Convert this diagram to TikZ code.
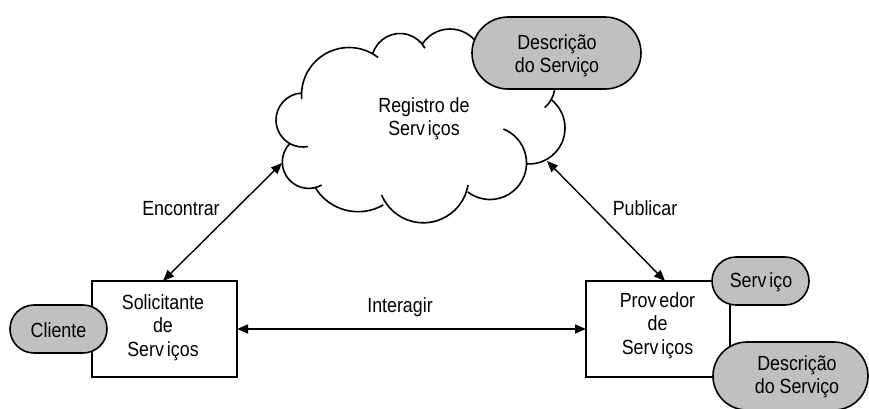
\documentclass[tikz,border=0pt]{standalone}
\usepackage{fontspec}
\setmainfont[FakeStretch=0.87]{Liberation Sans}
\usetikzlibrary{arrows.meta,calc}
\definecolor{pillgray}{RGB}{192,192,192}
\newcommand\lblfont{\fontsize{20.5}{23.5}\selectfont}
\newcommand\twolines[2]{\begin{tabular}[t]{@{}c@{}}#1\\#2\end{tabular}}
\newcommand\threelines[3]{\begin{tabular}[t]{@{}c@{}}#1\\#2\\#3\end{tabular}}
\newcommand\gapv{\kern3pt }
\tikzset{
  cloudline/.style={line width=1.6pt},
  boxshape/.style={draw, line width=1.6pt, fill=white, inner sep=0pt, outer sep=0pt},
  pill/.style={boxshape, fill=pillgray},
  biarrow/.style={{Triangle[length=11pt,width=9pt]}-{Triangle[length=11pt,width=9pt]}, line width=1.4pt},
  lbl/.style={inner sep=0pt, anchor=base, font=\lblfont}
}
\begin{document}
\begin{tikzpicture}[x=1pt,y=-1pt]
\useasboundingbox (0,0) rectangle (869,408);
\fill[white] (0,0) rectangle (869,408);

% cloud lobes
\draw[cloudline] (303,120) ++(268:27) arc[start angle=268, end angle=79.5, radius=27];
\draw[cloudline] (308.7,162) ++(225:26.4) arc[start angle=225, end angle=60.5, radius=26.4];
\draw[cloudline] (358.1,161.5) ++(149.1:50.2) arc[start angle=149.1, end angle=59.9, radius=50.2];
\draw[cloudline] (423.4,177.5) ++(157.2:45.3) arc[start angle=157.2, end angle=9.5, radius=45.3];
\draw[cloudline] (490,163) ++(-68.5:36.5) arc[start angle=-68.5, end angle=127.5, radius=36.5];
\draw[cloudline] (529,128) ++(-52.5:36) arc[start angle=-52.5, end angle=93, radius=36];
\draw[cloudline] (525,85) ++(-120:30) arc[start angle=-120, end angle=49, radius=30];
\draw[cloudline] (450,62) ++(213.7:33) arc[start angle=213.7, end angle=330, radius=33];
\draw[cloudline] (400,62) ++(197:28.5) arc[start angle=197, end angle=331, radius=28.5];
\draw[cloudline] (349,95) ++(175:47.5) arc[start angle=175, end angle=308, radius=47.5];

\coordinate (cloudW) at (282,163);
\coordinate (cloudE) at (547,161);

% top description pill
\node[pill, minimum width=169pt, minimum height=72pt, rounded corners=36pt] (desctop) at (556.5,53) {};

% boxes
\node[boxshape, minimum width=145pt, minimum height=96pt] (req) at (164.5,329) {};
\node[boxshape, minimum width=144pt, minimum height=96pt] (prov) at (658,329) {};

% pills on boxes
\node[pill, minimum width=97pt, minimum height=48pt, rounded corners=24pt] (cliente) at (58.5,329) {};
\node[pill, minimum width=97pt, minimum height=48pt, rounded corners=24pt] (servico) at (760.5,281) {};
\node[pill, minimum width=155pt, minimum height=68pt, rounded corners=34pt] (descbot) at (790.5,376) {};

% connectors
\draw[biarrow] ([xshift=-1.5pt]req.north) -- (cloudW);
\draw[biarrow] (cloudE) -- ([xshift=7pt]prov.north);
\draw[biarrow] (req.east) -- (prov.west);

% texts
\node[lbl] (regT) at (424,112.3) {\twolines{Registro de}{Serv\gapv iços}};
\node[lbl] (desctopT) at (557,49.3) {\twolines{Descrição}{do Serviço}};
\node[lbl] (reqT) at (163,309) {\threelines{Solicitante}{de}{Serv\gapv iços}};
\node[lbl] (provT) at (657.5,307) {\threelines{Prov\gapv edor}{de}{Serv\gapv iços}};
\node[lbl] (clienteT) at (58.5,337) {Cliente};
\node[lbl] (servicoT) at (761,287) {Serv\gapv iço};
\node[lbl] (descbotT) at (797,370) {\twolines{Descrição}{do Serviço}};
\node[lbl] (encT) at (181,215.7) {Encontrar};
\node[lbl] (pubT) at (645,215.7) {Publicar};
\node[lbl] (intT) at (400,312.3) {Interagir};
\end{tikzpicture}
\end{document}
